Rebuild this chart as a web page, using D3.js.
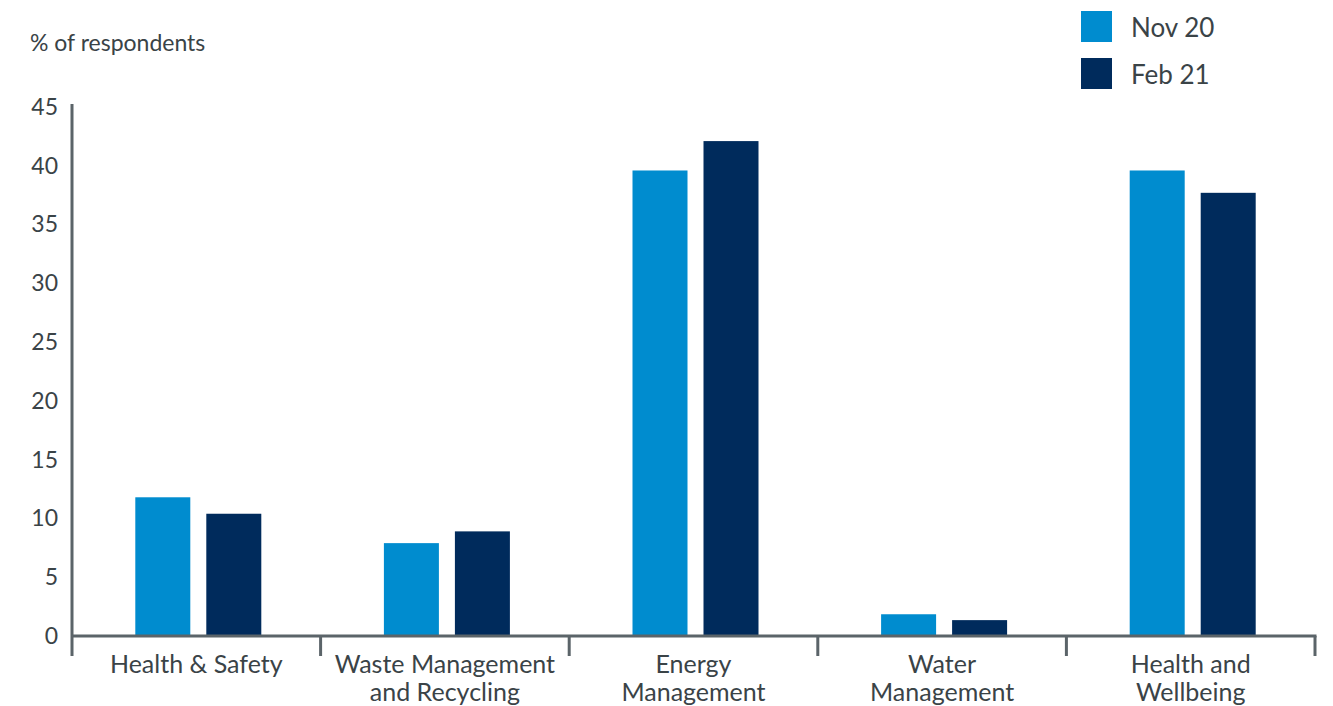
<!DOCTYPE html>
<html><head><meta charset="utf-8">
<script src="https://cdn.jsdelivr.net/npm/d3@7"></script>
<style>body{margin:0;background:#fff;} text{font-family:Lato,"Open Sans",sans-serif;fill:#3a4347;}</style>
</head><body>
<svg id="c" width="1333" height="706"></svg>
<script>
const categories = [["Health & Safety"],["Waste Management","and Recycling"],["Energy","Management"],["Water","Management"],["Health and","Wellbeing"]];
const series = ["Nov 20","Feb 21"];
const nov20 = [11.8, 7.9, 39.6, 1.85, 39.6];
const feb21 = [10.4, 8.9, 42.1, 1.35, 37.7];
const yTicks = [0,5,10,15,20,25,30,35,40,45];
const colors = ["#008ccf","#002b5c"];

(function(){
const svg = d3.select("#c");
const mLeft = 72, mRight = 1315, mTop = 107, mBottom = 636;
const catKeys = categories.map((d,i)=>i);
const x0 = d3.scaleBand().domain(catKeys).range([mLeft,mRight]).paddingInner(0).paddingOuter(0);
const bw = x0.bandwidth();
const groupW = 126;
const off = (bw-groupW)/2 + 2;
const x1 = d3.scaleBand().domain(series).range([off, off+groupW]).paddingInner(0.2254).paddingOuter(0);
const y = d3.scaleLinear().domain([0,45]).range([mBottom, mTop]);
const axisColor = "#5b6469";

const data = catKeys.map(i=>({i, vals:[nov20[i], feb21[i]]}));
const g = svg.append("g").selectAll("g").data(data).join("g").attr("transform",d=>`translate(${x0(d.i)},0)`);
g.selectAll("rect").data(d=>d.vals.map((v,k)=>({k,v}))).join("rect")
  .attr("x",d=>x1(series[d.k])).attr("width",x1.bandwidth())
  .attr("y",d=>y(d.v)).attr("height",d=>mBottom-y(d.v))
  .attr("fill",d=>colors[d.k]);

const yAxis = d3.axisLeft(y).tickValues(yTicks).tickSize(0).tickPadding(14);
const ya = svg.append("g").attr("transform",`translate(${mLeft},0)`).call(yAxis);
ya.select(".domain").remove();
ya.selectAll("text").attr("font-size",23).attr("fill","#3a4347").style("font-family","Lato, sans-serif");
svg.append("line").attr("x1",mLeft).attr("x2",mLeft).attr("y1",mTop-3).attr("y2",656)
  .attr("stroke",axisColor).attr("stroke-width",3);

svg.append("line").attr("x1",mLeft).attr("x2",mRight+1.5).attr("y1",mBottom).attr("y2",mBottom)
  .attr("stroke",axisColor).attr("stroke-width",3);
const bounds = catKeys.map(i=>x0(i)).concat([mRight]);
svg.append("g").selectAll("line").data(bounds.slice(1)).join("line")
  .attr("x1",d=>d).attr("x2",d=>d).attr("y1",mBottom).attr("y2",656)
  .attr("stroke",axisColor).attr("stroke-width",3);

const xl = svg.append("g").selectAll("text").data(catKeys).join("text")
  .attr("x",i=>x0(i)+bw/2).attr("y",673).attr("text-anchor","middle").attr("font-size",25);
xl.selectAll("tspan").data(i=>categories[i]).join("tspan")
  .attr("x",function(){return d3.select(this.parentNode).attr("x");})
  .attr("dy",(d,j)=>j===0?0:28).text(d=>d);

svg.append("text").attr("x",30).attr("y",51).attr("font-size",23).text("% of respondents");

const lg = svg.append("g").selectAll("g").data(series).join("g")
  .attr("transform",(d,k)=>`translate(1081,${11+k*47})`);
lg.append("rect").attr("width",31).attr("height",31).attr("fill",(d,k)=>colors[k]);
lg.append("text").attr("x",50).attr("y",26).attr("font-size",26).text(d=>d);
})();
</script>
</body></html>
